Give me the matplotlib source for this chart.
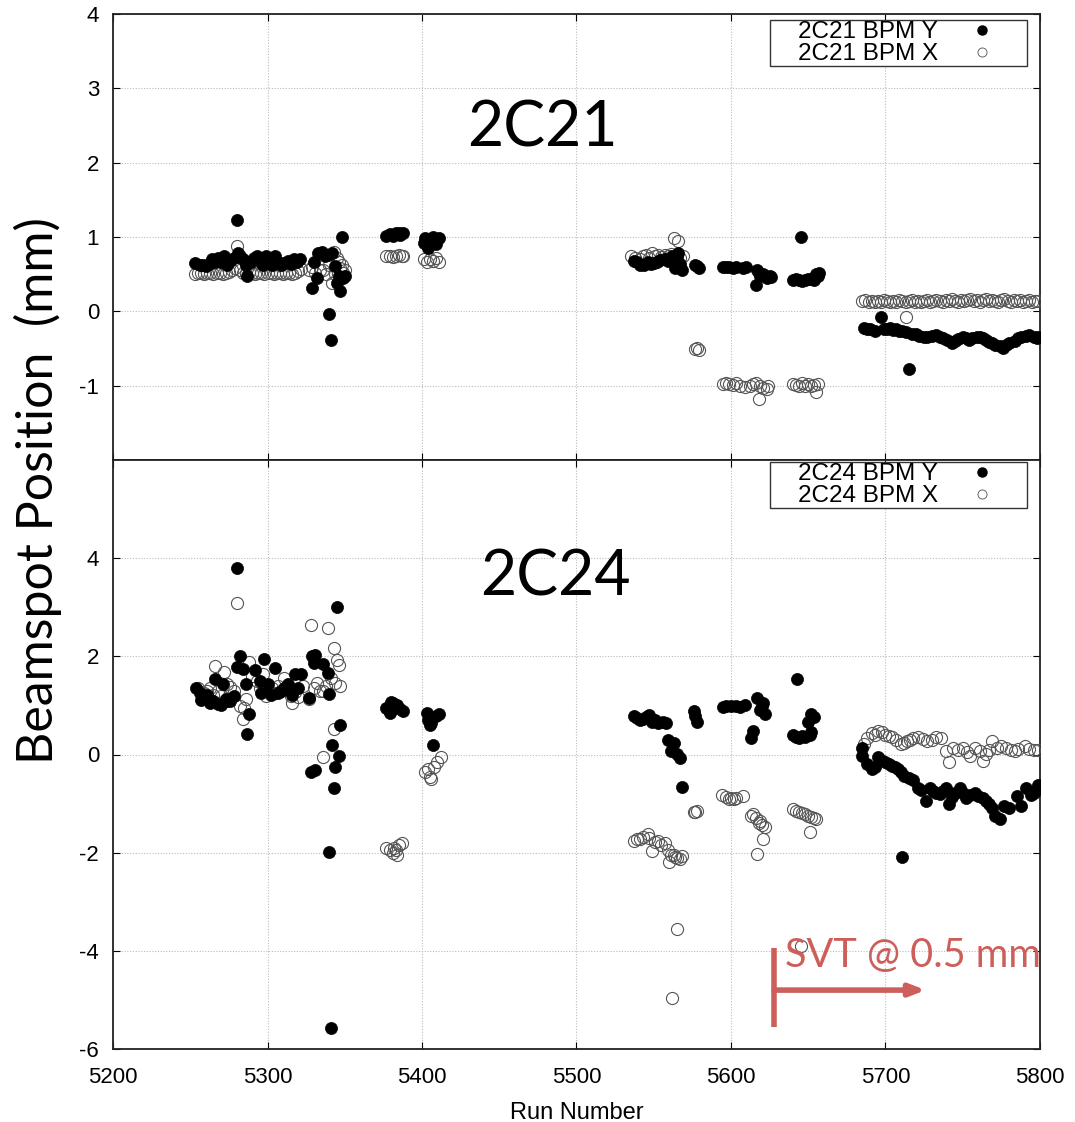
import numpy as np
import matplotlib.pyplot as plt

# ---- data ----
# top panel: 2C21
top_y_runs = [5253, 5256, 5258, 5260, 5262, 5264, 5266, 5268, 5270, 5272, 5274, 5276, 5278, 5280, 5281,
              5282, 5284, 5286, 5287, 5289, 5291, 5293, 5295, 5297, 5299, 5301, 5303, 5305, 5307, 5309,
              5311, 5313, 5315, 5317, 5319, 5321,
              5329, 5330, 5332, 5333, 5335, 5337, 5339, 5340, 5341, 5342, 5344, 5345, 5346, 5347, 5348, 5349, 5350,
              5377, 5379, 5381, 5383, 5385, 5386, 5388,
              5401, 5402, 5404, 5406, 5407, 5409, 5411,
              5537, 5539, 5541, 5544, 5546, 5548, 5550, 5552, 5554, 5557, 5559, 5562, 5564, 5565, 5566, 5567, 5568,
              5577, 5578, 5579,
              5595, 5597, 5599, 5601, 5603, 5608, 5610, 5616, 5617, 5618, 5619, 5621, 5623, 5625, 5626,
              5645, 5640, 5642, 5644, 5646, 5648, 5650, 5652, 5654, 5656, 5657, 5655,
              5686, 5688, 5690, 5693, 5697, 5699, 5701, 5703, 5705, 5707, 5709, 5711, 5713, 5715, 5717,
              5720, 5722, 5725, 5727, 5730, 5733, 5735, 5737, 5740, 5743, 5745, 5747, 5750, 5752, 5754,
              5756, 5759, 5761, 5763, 5765, 5767, 5769, 5771, 5774, 5776, 5778, 5780, 5784, 5786, 5788,
              5791, 5793, 5796, 5798, 5799]
top_y_vals = [0.65, 0.62, 0.63, 0.61, 0.64, 0.70, 0.67, 0.72, 0.66, 0.74, 0.62, 0.68, 0.72, 1.23, 0.78,
              0.75, 0.70, 0.62, 0.48, 0.66, 0.72, 0.74, 0.68, 0.63, 0.74, 0.66, 0.62, 0.74, 0.66, 0.63,
              0.65, 0.68, 0.64, 0.70, 0.66, 0.70,
              0.31, 0.66, 0.45, 0.78, 0.80, 0.75, 0.76, -0.03, -0.38, 0.78, 0.61, 0.38, 0.48, 0.28, 1.00, 0.45, 0.47,
              1.02, 1.04, 1.01, 1.05, 1.06, 1.03, 1.05,
              0.92, 0.98, 0.85, 0.95, 1.00, 0.90, 0.98,
              0.68, 0.66, 0.62, 0.63, 0.66, 0.64, 0.65, 0.67, 0.69, 0.70, 0.68, 0.74, 0.58, 0.72, 0.78, 0.64, 0.56,
              0.63, 0.61, 0.58,
              0.59, 0.59, 0.59, 0.58, 0.59, 0.58, 0.59, 0.35, 0.55, 0.52, 0.47, 0.50, 0.45, 0.48, 0.46,
              1.00, 0.42, 0.43, 0.42, 0.41, 0.42, 0.43, 0.44, 0.42, 0.47, 0.52, 0.50,
              -0.22, -0.24, -0.24, -0.26, -0.08, -0.24, -0.24, -0.23, -0.25, -0.24, -0.26, -0.27, -0.28, -0.77, -0.30,
              -0.30, -0.33, -0.34, -0.35, -0.33, -0.32, -0.35, -0.36, -0.39, -0.43, -0.40, -0.37, -0.34, -0.36, -0.38,
              -0.36, -0.34, -0.35, -0.36, -0.39, -0.41, -0.43, -0.45, -0.47, -0.49, -0.45, -0.43, -0.40, -0.36, -0.34,
              -0.33, -0.32, -0.35, -0.36, -0.34]

top_x_runs = [5253, 5255, 5257, 5259, 5261, 5263, 5265, 5267, 5269, 5271, 5273, 5275, 5277, 5279, 5280,
              5282, 5284, 5286, 5288, 5290, 5292, 5294, 5296, 5298, 5300, 5302, 5304, 5306, 5308, 5310,
              5312, 5314, 5316, 5318, 5320, 5322,
              5327, 5329, 5331, 5334, 5336, 5338, 5340, 5342, 5343, 5344, 5345, 5346, 5347, 5348, 5349, 5350,
              5377, 5379, 5381, 5383, 5385, 5387, 5388,
              5401, 5403, 5405, 5407, 5409, 5411,
              5535, 5538, 5541, 5543, 5545, 5547, 5549, 5551, 5553, 5555, 5557, 5559, 5561, 5563, 5566, 5567, 5569,
              5577, 5578, 5579,
              5595, 5597, 5599, 5601, 5603, 5606, 5609, 5612, 5614, 5616, 5618, 5619, 5621, 5623, 5624,
              5640, 5642, 5644, 5646, 5648, 5650, 5652, 5654, 5655, 5656,
              5685, 5687, 5689, 5691, 5693, 5695, 5697, 5699, 5701, 5703, 5705, 5707, 5709, 5711, 5713,
              5715, 5717, 5719, 5721, 5723, 5725, 5727, 5729, 5731, 5733, 5735, 5737, 5739, 5741, 5743,
              5745, 5747, 5749, 5751, 5753, 5755, 5757, 5759, 5761, 5763, 5765, 5767, 5769, 5771, 5773,
              5775, 5777, 5779, 5781, 5783, 5785, 5787, 5789, 5791, 5793, 5795, 5797, 5799, 5713]
top_x_vals = [0.50, 0.52, 0.51, 0.50, 0.52, 0.51, 0.50, 0.52, 0.51, 0.50, 0.52, 0.53, 0.55, 0.58, 0.88,
              0.55, 0.52, 0.50, 0.53, 0.51, 0.50, 0.52, 0.51, 0.50, 0.52, 0.51, 0.50, 0.52, 0.51, 0.50,
              0.52, 0.51, 0.50, 0.52, 0.54, 0.57,
              0.55, 0.60, 0.52, 0.55, 0.55, 0.50, 0.62, 0.38, 0.80, 0.50, 0.72, 0.66, 0.58, 0.62, 0.52, 0.55,
              0.74, 0.75, 0.73, 0.74, 0.76, 0.75, 0.74,
              0.70, 0.66, 0.71, 0.68, 0.72, 0.67,
              0.74, 0.72, 0.70, 0.74, 0.76, 0.72, 0.78, 0.74, 0.76, 0.73, 0.76, 0.74, 0.77, 0.99, 0.95, 0.72, 0.74,
              -0.51, -0.50, -0.52,
              -0.98, -0.97, -0.98, -0.99, -0.97, -1.00, -1.02, -1.00, -0.98, -0.96, -1.18, -1.00, -1.03, -1.05, -1.00,
              -0.98, -0.99, -1.00, -0.97, -1.00, -0.98, -1.00, -0.99, -1.08, -0.98,
              0.14, 0.15, 0.13, 0.14, 0.12, 0.14, 0.13, 0.15, 0.14, 0.13, 0.14, 0.12, 0.15, 0.14, 0.13,
              0.14, 0.15, 0.13, 0.14, 0.12, 0.14, 0.15, 0.13, 0.14, 0.15, 0.14, 0.13, 0.15, 0.14, 0.16,
              0.14, 0.13, 0.15, 0.14, 0.15, 0.16, 0.14, 0.15, 0.13, 0.15, 0.16, 0.14, 0.15, 0.14, 0.13,
              0.15, 0.16, 0.14, 0.13, 0.15, 0.14, 0.15, 0.13, 0.14, 0.15, 0.13, 0.14, 0.14, -0.08]

# bottom panel: 2C24
bot_y_runs = [5254, 5256, 5257, 5259, 5261, 5263, 5265, 5266, 5268, 5270, 5271, 5273, 5274, 5276, 5278,
              5280, 5280, 5282, 5284, 5286, 5287, 5288, 5292, 5295, 5296, 5298, 5300, 5302, 5305, 5307,
              5309, 5311, 5313, 5316, 5318, 5320, 5322,
              5327, 5328, 5329, 5330, 5331, 5331, 5336, 5339, 5340, 5340, 5341, 5342, 5343, 5344, 5345, 5346, 5347,
              5377, 5379, 5380, 5381, 5383, 5384, 5386, 5388,
              5403, 5404, 5405, 5406, 5407, 5409, 5411,
              5537, 5539, 5541, 5543, 5545, 5547, 5549, 5551, 5553, 5556, 5558, 5559, 5561, 5563, 5565, 5567, 5568,
              5576, 5577, 5578,
              5595, 5597, 5600, 5603, 5606, 5609, 5613, 5614, 5617, 5619, 5620, 5621, 5622,
              5643, 5640, 5642, 5644, 5646, 5648, 5650, 5651, 5652, 5652, 5654,
              5685, 5685, 5688, 5691, 5693, 5695, 5697, 5700, 5702, 5704, 5706, 5708, 5710, 5711, 5712,
              5715, 5718, 5721, 5723, 5726, 5729, 5731, 5733, 5735, 5737, 5739, 5741, 5743, 5745, 5748,
              5750, 5752, 5755, 5758, 5760, 5763, 5765, 5767, 5769, 5771, 5774, 5777, 5780, 5785, 5788,
              5791, 5794, 5796, 5798, 5799]
bot_y_vals = [1.35, 1.25, 1.12, 1.15, 1.22, 1.05, 1.10, 1.53, 1.02, 1.00, 1.43, 1.14, 1.08, 1.10, 1.20,
              3.80, 1.79, 2.00, 1.75, 1.43, 0.41, 0.82, 1.73, 1.49, 1.25, 1.95, 1.43, 1.22, 1.77, 1.25,
              1.30, 1.35, 1.43, 1.22, 1.63, 1.35, 1.63,
              1.15, -0.36, 2.00, 1.87, 2.03, -0.31, 1.84, 1.67, 1.23, -1.98, -5.57, 0.19, -0.68, -0.25, 3.01, -0.03, 0.60,
              0.95, 0.85, 1.07, 1.05, 0.97, 1.00, 0.92, 0.88,
              0.85, 0.70, 0.60, 0.65, 0.20, 0.78, 0.82,
              0.78, 0.74, 0.71, 0.72, 0.76, 0.80, 0.67, 0.70, 0.64, 0.66, 0.64, 0.30, 0.07, 0.24, 0.02, -0.07, -0.66,
              0.88, 0.78, 0.67,
              0.97, 0.98, 0.98, 0.99, 0.97, 1.00, 0.34, 0.47, 1.15, 0.91, 0.98, 1.05, 0.82,
              1.53, 0.39, 0.36, 0.33, 0.38, 0.36, 0.67, 0.40, 0.83, 0.45, 0.76,
              0.13, -0.04, -0.20, -0.30, -0.25, -0.06, -0.12, -0.16, -0.20, -0.23, -0.26, -0.30, -0.36, -2.08, -0.44,
              -0.48, -0.51, -0.68, -0.72, -0.95, -0.68, -0.74, -0.78, -0.81, -0.74, -0.68, -1.01, -0.86, -0.78, -0.68,
              -0.78, -0.88, -0.82, -0.78, -0.84, -0.88, -0.95, -1.01, -1.08, -1.25, -1.31, -1.04, -1.10, -0.85, -1.04,
              -0.68, -0.82, -0.78, -0.70, -0.62]

bot_x_runs = [5255, 5257, 5259, 5261, 5263, 5265, 5266, 5268, 5270, 5272, 5274, 5276, 5278, 5280, 5282,
              5284, 5285, 5286, 5288, 5290, 5293, 5295, 5297, 5299, 5301, 5303, 5305, 5307, 5309, 5311,
              5313, 5315, 5316, 5318, 5320, 5323,
              5327, 5328, 5330, 5332, 5334, 5336, 5336, 5338, 5339, 5341, 5343, 5343, 5345, 5346, 5347, 5344,
              5377, 5379, 5381, 5382, 5383, 5384, 5385, 5387,
              5402, 5404, 5405, 5406, 5408, 5410, 5412,
              5537, 5539, 5541, 5543, 5546, 5547, 5549, 5551, 5553, 5555, 5557, 5559, 5560, 5561, 5563, 5564, 5565,
              5567, 5568, 5565, 5562,
              5576, 5577, 5578,
              5594, 5597, 5599, 5600, 5602, 5603, 5608, 5613, 5614, 5616, 5617, 5618, 5619, 5620, 5621, 5622,
              5640, 5642, 5644, 5645, 5646, 5648, 5650, 5651, 5652, 5654, 5655,
              5686, 5688, 5691, 5693, 5695, 5698, 5700, 5702, 5704, 5707, 5710, 5712, 5714, 5716, 5718,
              5721, 5724, 5727, 5730, 5733, 5736, 5739, 5741, 5744, 5747, 5750, 5753, 5755, 5758, 5761,
              5763, 5765, 5767, 5769, 5772, 5775, 5778, 5781, 5784, 5786, 5790, 5793, 5796, 5799]
bot_x_vals = [1.35, 1.28, 1.25, 1.30, 1.35, 1.22, 1.81, 1.30, 1.20, 1.69, 1.43, 1.38, 1.29, 3.08, 0.98,
              0.72, 0.95, 1.14, 1.88, 1.60, 1.49, 1.35, 1.65, 1.20, 1.29, 1.35, 1.25, 1.40, 1.30, 1.55,
              1.35, 1.20, 1.05, 1.28, 1.18, 1.39,
              1.14, 2.64, 1.35, 1.45, 1.30, 1.29, -0.05, 1.40, 2.58, 1.55, 2.16, 0.52, 1.93, 1.82, 1.39, 1.45,
              -1.90, -1.95, -2.00, -1.90, -1.95, -2.05, -1.85, -1.80,
              -0.35, -0.30, -0.45, -0.50, -0.25, -0.15, -0.05,
              -1.76, -1.72, -1.73, -1.68, -1.62, -1.70, -1.96, -1.78, -1.76, -1.85, -1.81, -1.95, -2.20, -2.05, -2.04, -2.08, -2.10,
              -2.13, -2.06, -3.55, -4.97,
              -1.17, -1.18, -1.16,
              -0.82, -0.87, -0.90, -0.89, -0.90, -0.88, -0.85, -1.25, -1.22, -1.30, -2.03, -1.40, -1.35, -1.44, -1.72, -1.48,
              -1.12, -1.15, -1.18, -3.90, -1.20, -1.21, -1.25, -1.58, -1.28, -1.30, -1.31,
              0.21, 0.34, 0.44, 0.40, 0.47, 0.45, 0.40, 0.38, 0.36, 0.30, 0.21, 0.24, 0.27, 0.30, 0.34,
              0.36, 0.32, 0.27, 0.30, 0.36, 0.34, 0.07, -0.16, 0.13, 0.10, 0.13, 0.05, -0.04, 0.13, 0.08,
              -0.14, 0.02, 0.10, 0.27, 0.13, 0.18, 0.13, 0.10, 0.08, 0.11, 0.17, 0.12, 0.10, 0.10]

panel_names = ["2C21", "2C24"]
svt_run = 5628
svt_arrow_end = 5726

plt.rcParams['font.family'] = ['Liberation Sans', 'DejaVu Sans']
plt.rcParams['axes.unicode_minus'] = False

fig = plt.figure(figsize=(10.75, 11.22), dpi=100)
W, H = 1075, 1122
left, right = 113, 1040
ax1 = fig.add_axes([left / W, 1 - 460 / H, (right - left) / W, (460 - 14) / H])
ax2 = fig.add_axes([left / W, 1 - 1049 / H, (right - left) / W, (1049 - 460) / H])

ms = 8.7
for ax, yr, yv, xr, xv, name, top in [(ax1, top_y_runs, top_y_vals, top_x_runs, top_x_vals, "2C21", 0.9865),
                                      (ax2, bot_y_runs, bot_y_vals, bot_x_runs, bot_x_vals, "2C24", 0.9966)]:
    ax.plot(xr, xv, 'o', ms=ms, mfc='none', mec='#555555', mew=0.8, zorder=3)
    ax.plot(yr, yv, 'o', ms=ms, mfc='black', mec='black', mew=0.5, zorder=4)
    # legend proxies (smaller markers)
    hy, = ax.plot([], [], 'o', ms=6.5, mfc='black', mec='black', label="    " + name + " BPM Y")
    hx, = ax.plot([], [], 'o', ms=6.5, mfc='none', mec='#666666', mew=0.7, label="    " + name + " BPM X")
    ax.set_xlim(5200, 5800)
    ax.set_xticks([5200, 5300, 5400, 5500, 5600, 5700, 5800])
    ax.grid(True, color='#bbbbbb', linestyle=(0, (1, 1.5)), linewidth=0.8)
    ax.set_axisbelow(True)
    ax.tick_params(direction='in', top=True, right=True, labelsize=16, length=5, width=0.8)
    ax.tick_params(axis='y', pad=10)
    ax.tick_params(axis='x', pad=13)
    for sp in ax.spines.values():
        sp.set_linewidth(1.3)
        sp.set_color('#222222')
    leg = ax.legend(handles=[hy, hx], loc='upper right', bbox_to_anchor=(0.986, top),
                    markerfirst=False, fontsize=17.5, fancybox=False, framealpha=1, edgecolor='#333333',
                    borderpad=0.05, labelspacing=0.0, handletextpad=0.0, handlelength=3.6,
                    borderaxespad=0.0)
    leg.get_frame().set_linewidth(1.0)

ax1.set_ylim(-2, 4)
ax1.set_yticks([-1, 0, 1, 2, 3, 4])
ax1.tick_params(labelbottom=False)
ax2.set_ylim(-6, 6)
ax2.set_yticks([-6, -4, -2, 0, 2, 4])
ax2.set_xlabel("Run Number", fontsize=17, labelpad=10)

ax1.text(0.463, 0.743, panel_names[0], transform=ax1.transAxes, ha='center', va='center',
         fontsize=45, family='Lato')
ax2.text(0.477, 0.80, panel_names[1], transform=ax2.transAxes, ha='center', va='center',
         fontsize=45, family='Lato')

fig.text(0.035, 1 - 491 / H, "Beamspot Position  (mm)", rotation=90, ha='center', va='center',
         fontsize=36, family='Lato')

# SVT annotation
red = '#CD5F5A'
ax2.plot([svt_run, svt_run], [-3.95, -5.55], color=red, lw=4, solid_capstyle='butt', clip_on=False, zorder=6)
ax2.annotate("", xy=(svt_arrow_end, -4.8), xytext=(svt_run, -4.8),
             arrowprops=dict(arrowstyle='-|>,head_length=0.9,head_width=0.35', color=red, lw=4,
                             shrinkA=0, shrinkB=0), zorder=6, annotation_clip=False)
ax2.text(svt_run + 7, -4.1, "SVT @ 0.5 mm", color=red, fontsize=28.5, family='Lato',
         ha='left', va='center', zorder=6, clip_on=False)

fig.savefig("out.png", dpi=100)
